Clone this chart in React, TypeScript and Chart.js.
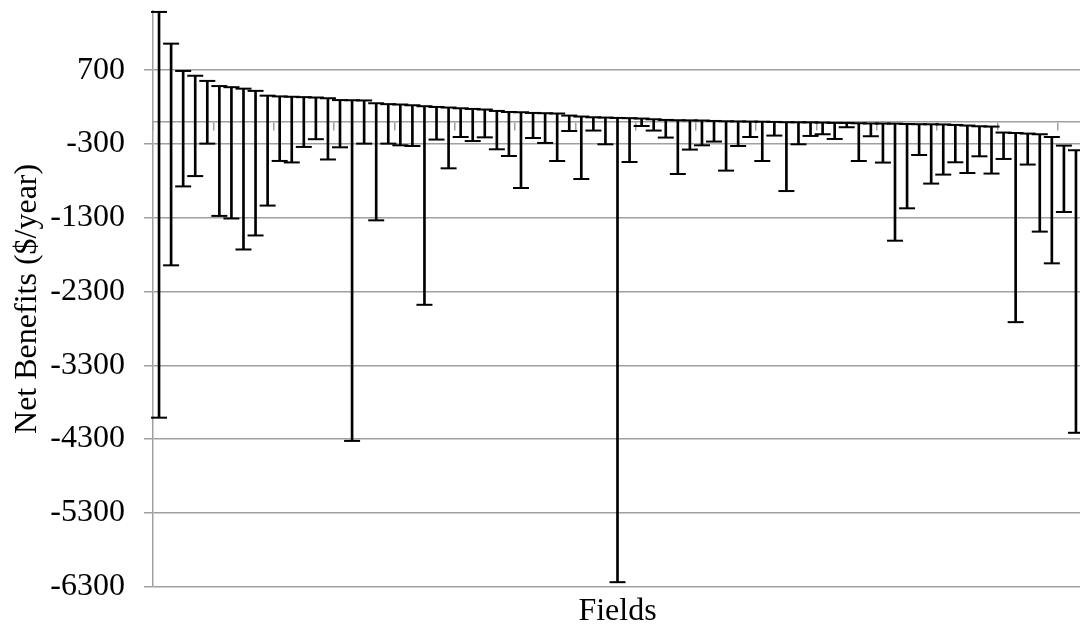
import React, { useEffect, useRef } from 'react';
import { Chart, registerables } from 'chart.js';

Chart.register(...registerables);

// 77 fields, sorted by their upper net-benefit value
const fields: string[] = Array.from({ length: 77 }, (_, i) => `Field ${i + 1}`);

const highValues: number[] = [
  1490, 1060, 690, 625, 555, 485, 470, 450, 420, 355,
  345, 340, 335, 330, 320, 295, 293, 290, 252, 240,
  235, 225, 212, 202, 194, 184, 175, 167, 148, 134,
  130, 121, 117, 113, 85, 72, 62, 58, 53, 50,
  45, 35, 26, 22, 20, 18, 12, 8, 6, 4,
  2, -1, -5, -6, -7, -10, -14, -15, -19, -22,
  -23, -24, -29, -32, -33, -35, -42, -50, -60, -64,
  -145, -151, -159, -168, -205, -322, -385,
];

const lowValues: number[] = [
  -4010, -1945, -875, -735, -295, -1275, -1310, -1730, -1540, -1135,
  -530, -550, -340, -235, -510, -345, -4325, -295, -1335, -295,
  -318, -327, -2480, -240, -630, -205, -260, -210, -372, -463,
  -897, -219, -286, -531, -124, -775, -118, -304, -6240, -544,
  -56, -118, -213, -707, -376, -318, -267, -661, -327, -205,
  -531, -186, -938, -304, -191, -168, -232, -73, -531, -195,
  -552, -1611, -1172, -449, -837, -715, -548, -693, -467, -701,
  -503, -2715, -579, -1488, -1918, -1222, -4215,
];

const yTickValues: number[] = [-6300, -5300, -4300, -3300, -2300, -1300, -300, 700];
const yTickLabels: string[] = ['-6300', '-5300', '-4300', '-3300', '-2300', '-1300', '-300', '700'];

const yTitle = 'Net Benefits ($/year)';
const xTitle = 'Fields';

export default function App() {
  const ref = useRef<HTMLCanvasElement>(null);

  useEffect(() => {
    if (!ref.current) return;
    const gray = '#a0a0a0';
    const serif = "'Liberation Serif', 'Times New Roman', serif";

    const capDataset = (values: number[]) => ({
      type: 'line' as const,
      data: values,
      showLine: false,
      pointStyle: 'line' as const,
      pointRadius: 8,
      pointHoverRadius: 8,
      pointBorderWidth: 2,
      pointHoverBorderWidth: 2,
      pointBorderColor: '#000',
      pointBackgroundColor: '#000',
      borderColor: '#000',
      clip: false as const,
      xAxisID: 'x',
      yAxisID: 'y',
      order: 1,
    });

    const noSidePadding = (s: any) => {
      s.paddingLeft = 0;
      s.paddingRight = 0;
    };

    const chart = new Chart(ref.current, {
      type: 'bar',
      data: {
        labels: fields,
        datasets: [
          {
            type: 'bar',
            data: fields.map((_, i) => [lowValues[i], highValues[i]]) as any,
            backgroundColor: '#000',
            borderWidth: 0,
            barThickness: 2,
            xAxisID: 'x',
            yAxisID: 'y',
            order: 2,
          },
          capDataset(highValues) as any,
          capDataset(lowValues) as any,
        ],
      },
      options: {
        responsive: false,
        animation: false,
        events: [],
        layout: { padding: { left: 4, right: 0, top: 0, bottom: 0 } },
        plugins: {
          legend: { display: false },
          tooltip: { enabled: false },
        },
        scales: {
          x: {
            type: 'category',
            offset: true,
            afterFit: noSidePadding,
            grid: { display: false, drawTicks: false },
            border: { display: false },
            ticks: { display: false },
            title: {
              display: true,
              text: xTitle,
              color: '#000',
              font: { family: serif, size: 32 },
              padding: { top: 6, bottom: 6 },
            },
          },
          x0: {
            type: 'category',
            axis: 'x',
            position: { y: 0 },
            offset: true,
            afterFit: noSidePadding,
            grid: {
              display: true,
              offset: true,
              drawOnChartArea: false,
              drawTicks: true,
              tickLength: 8,
              lineWidth: 1.5,
              tickColor: (c: any) => (c.index % 5 === 0 ? gray : 'rgba(0,0,0,0)'),
            },
            border: { display: true, color: gray, width: 1.5 },
            ticks: { display: false },
          } as any,
          y: {
            type: 'linear',
            min: -6300,
            max: 1500,
            afterBuildTicks: (s: any) => {
              s.ticks = yTickValues.map((v) => ({ value: v }));
            },
            afterFit: (s: any) => {
              s.width = 149;
            },
            ticks: {
              callback: (v: any) => yTickLabels[yTickValues.indexOf(Number(v))] ?? '',
              color: '#000',
              font: { family: serif, size: 32 },
              padding: 19,
            },
            grid: { color: gray, lineWidth: 1.5, tickLength: 9, drawTicks: true },
            border: { display: true, color: gray, width: 1.5 },
            title: {
              display: true,
              text: yTitle,
              color: '#000',
              font: { family: serif, size: 32 },
              padding: { top: 4, bottom: 4 },
            },
          },
        },
      },
    });
    return () => chart.destroy();
  }, []);

  return (
    <div
      style={{
        position: 'fixed',
        left: 0,
        top: 0,
        width: 1080,
        height: 630,
        overflow: 'hidden',
        background: '#fff',
      }}
    >
      <canvas
        ref={ref}
        width={1092}
        height={664}
        style={{ position: 'absolute', left: 0, top: -27, display: 'block' }}
      />
    </div>
  );
}
